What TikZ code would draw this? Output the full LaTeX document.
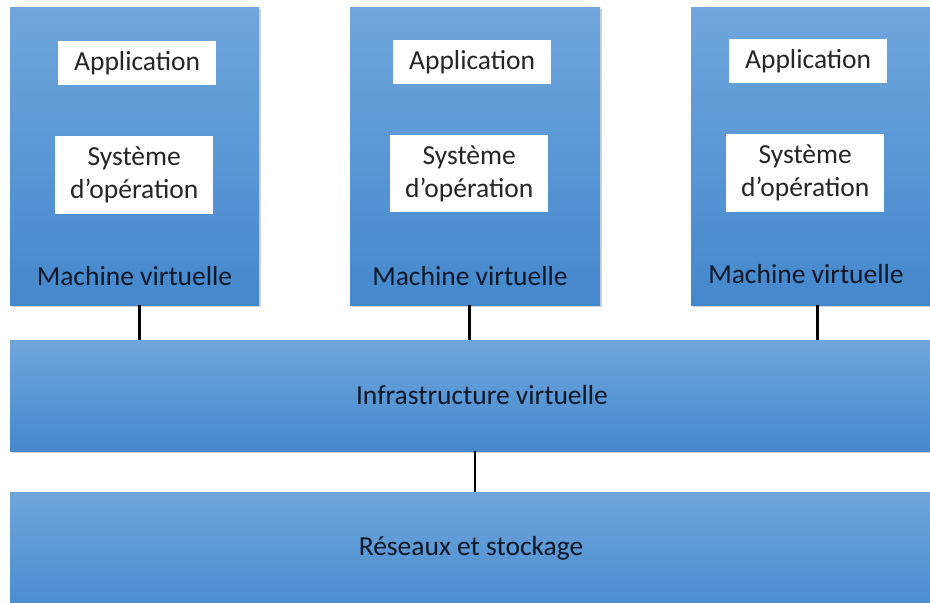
\documentclass[tikz,border=0pt]{standalone}
\usepackage{fontspec}
\setmainfont{Carlito}
\usetikzlibrary{shadows}

\definecolor{boxtop}{RGB}{112,166,221}
\definecolor{boxmid}{RGB}{88,151,214}
\definecolor{boxbot}{RGB}{68,136,204}
\definecolor{labeltext}{RGB}{12,24,40}

\tikzset{
    vmbox/.style={rectangle, anchor=north west, inner sep=0pt,
        top color=boxtop, middle color=boxmid, bottom color=boxbot,
        drop shadow={shadow xshift=2pt, shadow yshift=-2pt, opacity=0.35}},
    whitebox/.style={rectangle, anchor=north west, inner sep=0pt, fill=white,
        minimum width=158pt, text=black!85, align=center},
    label/.style={text=labeltext, inner sep=0pt},
    link/.style={line width=2.6pt, black}
}

\begin{document}
\begin{tikzpicture}[x=1pt, y=-1pt, font=\fontsize{27.5}{33}\selectfont]

    \useasboundingbox (0,0) rectangle (930,603);
    \clip (0,0) rectangle (930,603);

    \node[vmbox, minimum width=249pt, minimum height=298pt] (vm1) at (10,7) {};
    \node[vmbox, minimum width=250pt, minimum height=298pt] (vm2) at (350,7) {};
    \node[vmbox, minimum width=250pt, minimum height=298pt] (vm3) at (691,7) {};

    \node[whitebox, minimum height=44pt] (app1) at (58,41) {Application};
    \node[whitebox, minimum height=44pt] (app2) at (393,40) {Application};
    \node[whitebox, minimum height=44pt] (app3) at (729,39) {Application};

    \node[whitebox, minimum height=78pt] (sys1) at (55,136) {Système\\d’opération};
    \node[whitebox, minimum height=77pt] (sys2) at (390,135) {Système\\d’opération};
    \node[whitebox, minimum height=78pt] (sys3) at (726,134) {Système\\d’opération};

    \node[label] (mv1) at (134.5,276) {Machine virtuelle};
    \node[label] (mv2) at (470,276) {Machine virtuelle};
    \node[label] (mv3) at (806,274) {Machine virtuelle};

    \node[vmbox, minimum width=940pt, minimum height=111pt] (infra) at (10,340) {};
    \node[label] (infralabel) at (482,395) {Infrastructure virtuelle};

    \node[vmbox, minimum width=940pt, minimum height=130pt] (reseau) at (10,492) {};
    \node[label] (reseaulabel) at (471,548) {Réseaux et stockage};

    \draw[link] ([xshift=5pt]vm1.south) -- ([xshift=5pt]vm1.south |- infra.north);
    \draw[link] ([xshift=-6pt]vm2.south) -- ([xshift=-6pt]vm2.south |- infra.north);
    \draw[link] ([xshift=1pt]vm3.south) -- ([xshift=1pt]vm3.south |- infra.north);

    \draw[link] (infra.south -| infralabel.south) ++(-7pt,0) coordinate (infrabot)
        -- (infrabot |- reseau.north);

\end{tikzpicture}
\end{document}
